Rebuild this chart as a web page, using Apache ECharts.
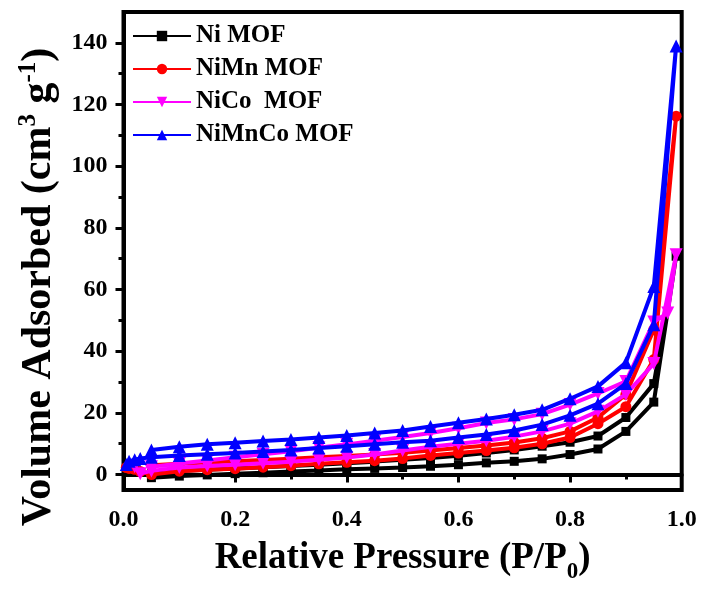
<!DOCTYPE html>
<html>
<head>
<meta charset="utf-8">
<script src="https://cdn.jsdelivr.net/npm/echarts@6/dist/echarts.min.js"></script>
<style>
  html, body { margin: 0; padding: 0; background: #fff; }
  #chart { width: 703px; height: 592px; }
</style>
</head>
<body>
<div id="chart"></div>
<script>
// N2 adsorption–desorption isotherms of the MOF samples
const seriesNames = ['Ni MOF', 'NiMn MOF', 'NiCo  MOF', 'NiMnCo MOF'];

// relative pressure of the adsorption branch (going up)
const pAds = [0.005, 0.01, 0.02, 0.03, 0.05, 0.10, 0.15, 0.20, 0.25, 0.30, 0.35, 0.40,
              0.45, 0.50, 0.55, 0.60, 0.65, 0.70, 0.75, 0.80, 0.85, 0.90, 0.95, 0.99];
// relative pressure of the desorption branch (coming back down)
const pDes = [0.975, 0.95, 0.90, 0.85, 0.80, 0.75, 0.70, 0.65, 0.60, 0.55, 0.50, 0.45,
              0.40, 0.35, 0.30, 0.25, 0.20, 0.15, 0.10, 0.05];

// volume adsorbed, cm3 g-1 (null = no measurement at that pressure)
const niAds     = [null, null, null, null, -1.0, -0.5, -0.1, 0.3, 0.6, 1.0, 1.3, 1.7,
                   2.0, 2.3, 2.7, 3.2, 3.8, 4.3, 5.1, 6.5, 8.3, 14.0, 23.5, 70.8];
const niDes     = [null, 29.5, 18.5, 12.5, 10.5, 9.2, 8.0, 7.0, 6.1, 5.4, 4.8, 4.2,
                   3.7, 3.2, 2.8, 2.4, 2.0, 1.6, 1.2, 0.8];
const niMnAds   = [2.3, 2.0, 1.7, 1.0, 0.0, 1.1, 1.6, 1.9, 2.4, 2.9, 3.5, 4.0,
                   4.5, 5.2, 6.2, 7.0, 7.8, 8.7, 10.0, 12.0, 16.5, 22.0, 37.3, 116.2];
const niMnDes   = [null, 47.0, 26.0, 18.5, 14.0, 11.8, 10.4, 9.4, 8.6, 7.8, 7.1, 6.5,
                   6.0, 5.6, 5.1, 4.7, 4.3, 3.9, 3.5, 3.0];
const niCoAds   = [null, null, 2.5, 0.3, 1.2, 2.3, 2.8, 3.2, 3.7, 4.2, 4.8, 5.5,
                   6.5, 7.8, 9.0, 10.0, 11.0, 12.3, 14.0, 16.5, 20.5, 26.0, 36.0, 71.3];
const niCoDes   = [52.4, 49.5, 30.2, 26.3, 22.7, 19.6, 17.9, 16.7, 15.0, 13.5, 12.2, 11.0,
                   9.8, 8.7, 7.6, 6.6, 5.6, 4.6, 3.6, 2.5];
const niMnCoAds = [3.3, 4.3, 4.8, 5.2, 5.6, 6.2, 6.6, 7.0, 7.5, 8.0, 8.6, 9.2,
                   9.8, 10.5, 11.0, 12.0, 13.0, 14.3, 16.2, 19.2, 23.0, 29.5, 48.6, 139.0];
const niMnCoDes = [null, 61.0, 36.3, 28.6, 24.6, 21.0, 19.4, 18.0, 16.8, 15.6, 14.3, 13.5,
                   12.7, 12.0, 11.4, 10.9, 10.3, 9.8, 9.0, 8.0];

// axis ticks
const xTicks = [0.0, 0.2, 0.4, 0.6, 0.8, 1.0];
const yMajorTicks = [0, 20, 40, 60, 80, 100, 120, 140];
const yMinorTicks = [10, 30, 50, 70, 90, 110, 130];

const colors = ['#000000', '#ff0000', '#ff00ff', '#0000ff'];
const symbols = ['rect', 'circle', 'triangle', 'triangle'];
const symbolSizes = [9, 11, 13, 13];
const symbolRotates = [0, 0, 180, 0];

// one loop per sample: adsorption branch followed by the desorption branch
function loop(ads, des) {
  const pts = [];
  pAds.forEach((p, i) => { if (ads[i] !== null) pts.push([p, ads[i]]); });
  pDes.forEach((p, i) => { if (des[i] !== null) pts.push([p, des[i]]); });
  return pts;
}
const loops = [loop(niAds, niDes), loop(niMnAds, niMnDes), loop(niCoAds, niCoDes), loop(niMnCoAds, niMnCoDes)];

const FONT = 'Liberation Serif';
const chart = echarts.init(document.getElementById('chart'), null, { renderer: 'canvas' });

chart.setOption({
  animation: false,
  backgroundColor: '#ffffff',
  grid: {
    left: 123.5, right: 21.3, top: 12, bottom: 102,
    show: true, borderColor: '#000', borderWidth: 4, backgroundColor: 'transparent'
  },
  legend: {
    orient: 'vertical',
    left: 127, top: 18,
    itemWidth: 58, itemHeight: 13, itemGap: 7,
    data: seriesNames,
    textStyle: { fontFamily: FONT, fontWeight: 'bold', fontSize: 25, color: '#000', lineHeight: 26 }
  },
  xAxis: {
    type: 'value', min: 0, max: 1, interval: 0.2,
    axisLine: { lineStyle: { color: '#000', width: 4 } },
    axisTick: { show: true, inside: false, length: 8, lineStyle: { width: 3, color: '#000' } },
    minorTick: { show: true, splitNumber: 2, length: 5, lineStyle: { width: 3, color: '#000' } },
    splitLine: { show: false },
    axisLabel: {
      margin: 18, fontFamily: FONT, fontWeight: 'bold', fontSize: 24, color: '#000',
      formatter: v => xTicks.some(t => Math.abs(t - v) < 1e-9) ? v.toFixed(1) : ''
    },
    name: '{t|Relative Pressure (P/P}{sub|0}{t|)}',
    nameLocation: 'middle', nameGap: 42,
    nameTextStyle: {
      rich: {
        t: { fontFamily: FONT, fontWeight: 'bold', fontSize: 37, color: '#000', lineHeight: 52, verticalAlign: 'middle' },
        sub: { fontFamily: FONT, fontWeight: 'bold', fontSize: 23, color: '#000', lineHeight: 10, verticalAlign: 'bottom' }
      }
    }
  },
  yAxis: [{
    type: 'value', min: -5, max: 150,
    axisLine: { show: true, lineStyle: { color: '#000', width: 4 } },
    axisTick: { show: true, inside: false, length: 8, customValues: yMajorTicks, lineStyle: { width: 3, color: '#000' } },
    splitLine: { show: false },
    axisLabel: {
      margin: 16, customValues: yMajorTicks,
      fontFamily: FONT, fontWeight: 'bold', fontSize: 24, color: '#000'
    },
    name: '{t|Volume Adsorbed (cm}{sup|3}{t| g}{sup|-1}{t|)}',
    nameLocation: 'middle', nameRotate: 90, nameGap: 57,
    nameTextStyle: {
      padding: [0, 72, 0, 0],
      rich: {
        t: { fontFamily: FONT, fontWeight: 'bold', fontSize: 42, color: '#000', lineHeight: 48, verticalAlign: 'middle' },
        sup: { fontFamily: FONT, fontWeight: 'bold', fontSize: 25, color: '#000', lineHeight: 27, verticalAlign: 'top' }
      }
    }
  }, {
    // minor ticks of the volume axis
    type: 'value', min: -5, max: 150, position: 'left',
    axisLine: { show: false },
    axisTick: { show: true, inside: false, length: 5, customValues: yMinorTicks, lineStyle: { width: 3, color: '#000' } },
    axisLabel: { show: false },
    splitLine: { show: false }
  }],
  series: seriesNames.map((name, i) => ({
    name: name,
    type: 'line',
    data: loops[i],
    color: colors[i],
    symbol: symbols[i],
    symbolSize: symbolSizes[i],
    symbolRotate: symbolRotates[i],
    showAllSymbol: true,
    lineStyle: { width: 4, color: colors[i] },
    itemStyle: { color: colors[i] },
    z: 2 + i
  }))
});
</script>
</body>
</html>
